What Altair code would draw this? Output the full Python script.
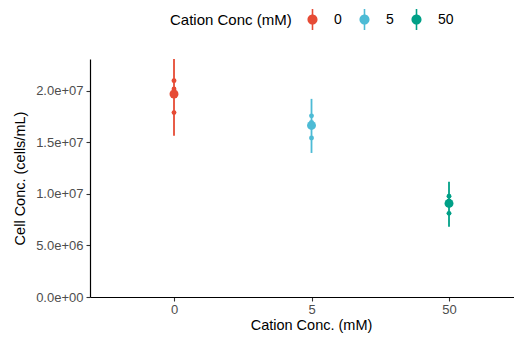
import altair as alt
import pandas as pd

# ---- data ----
conc = ["0", "5", "50"]
mean_vals = [1.97e7, 1.665e7, 0.908e7]
err_low = [1.565e7, 1.398e7, 0.683e7]
err_high = [2.31e7, 1.923e7, 1.118e7]

rep_conc = ["0", "0", "0", "5", "5", "5", "50", "50", "50"]
rep_vals = [2.10e7, 2.02e7, 1.79e7, 1.758e7, 1.694e7, 1.543e7, 0.979e7, 0.933e7, 0.812e7]

y_ticks = [0, 5e6, 1e7, 1.5e7, 2e7]
colors = ["#E64B35", "#4DBBD5", "#00A087"]

summary = pd.DataFrame({"conc": conc, "mean": mean_vals, "lo": err_low, "hi": err_high})
reps = pd.DataFrame({"conc": rep_conc, "val": rep_vals})

FONT = "Liberation Sans"

xscale = alt.Scale(type="point", domain=conc, padding=0.5418, align=0.5638)
yscale = alt.Scale(domain=[0, 2.31e7], nice=False, zero=True)

legend_symbol = ("M-0.075,-1L0.075,-1L0.075,1L-0.075,1Z "
                 "M-0.48,0A0.48,0.48,0,1,1,0.48,0A0.48,0.48,0,1,1,-0.48,0Z")

legend = alt.Legend(
    title="Cation Conc (mM)",
    orient="none",
    direction="horizontal",
    legendX=80,
    legendY=-50,
    titleOrient="left",
    titleAnchor="middle",
    titleBaseline="middle",
    titleFontSize=15,
    titleFontWeight="normal",
    titleColor="#000000",
    titleFont=FONT,
    titlePadding=10,
    labelFontSize=14,
    labelColor="#000000",
    labelFont=FONT,
    labelOffset=11,
    columnPadding=12,
    symbolType=legend_symbol,
    symbolSize=441,
    symbolStrokeWidth=0,
    symbolOpacity=1,
)

color = alt.Color("conc:N", scale=alt.Scale(domain=conc, range=colors), legend=legend)

x_axis = alt.Axis(title="Cation Conc. (mM)", labelAngle=0, labelFontSize=13,
                  labelColor="#4D4D4D", titleFontSize=14.5, titleColor="#000000",
                  titleFontWeight="normal", labelPadding=2, titlePadding=2,
                  titleX=221,
                  tickSize=4, tickColor="#333333", tickWidth=1.1,
                  domainColor="#000000", domainWidth=1.2, grid=False,
                  labelFont=FONT, titleFont=FONT)
y_axis = alt.Axis(title="Cell Conc. (cells/mL)", values=y_ticks,
                  labelExpr="replace(format(datum.value, '.1e'), 'e+', 'e+0')",
                  labelFontSize=13, labelColor="#4D4D4D", titleFontSize=14.5,
                  titleColor="#000000", titleFontWeight="normal", labelPadding=3,
                  titlePadding=8, tickSize=4, tickColor="#333333", tickWidth=1.1,
                  domainColor="#000000", domainWidth=1.2, grid=False,
                  labelFont=FONT, titleFont=FONT)

bars = alt.Chart(summary).mark_rule(strokeWidth=1.8).encode(
    x=alt.X("conc:N", scale=xscale, axis=x_axis, sort=conc),
    y=alt.Y("lo:Q", scale=yscale, axis=y_axis),
    y2="hi:Q",
    color=color,
)

rep_pts = alt.Chart(reps).mark_circle(size=24, opacity=1).encode(
    x=alt.X("conc:N", scale=xscale, sort=conc),
    y=alt.Y("val:Q", scale=yscale),
    color=color,
)

mean_pts = alt.Chart(summary).mark_circle(size=80, opacity=1).encode(
    x=alt.X("conc:N", scale=xscale, sort=conc),
    y=alt.Y("mean:Q", scale=yscale),
    color=color,
)

chart = alt.layer(bars, rep_pts, mean_pts).properties(
    width=424,
    height=238,
    autosize=alt.AutoSizeParams(type="none"),
    padding={"left": 82, "top": 51, "right": 0, "bottom": 37},
    background="white",
).configure_view(stroke=None)

chart.save("out.html", embed_options={"renderer": "svg", "actions": False})
